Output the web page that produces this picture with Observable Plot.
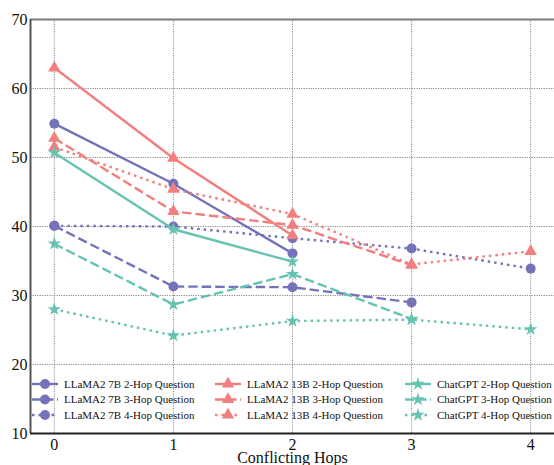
<!DOCTYPE html>
<html>
<head>
<meta charset="utf-8">
<script src="https://cdn.jsdelivr.net/npm/d3@7"></script>
<script src="https://cdn.jsdelivr.net/npm/@observablehq/plot@0.6"></script>
<style>
  html, body { margin: 0; padding: 0; background: white; }
  #wrap { position: relative; width: 554px; height: 465px; overflow: hidden; }
  #legend { position: absolute; left: 0; top: 0; }
</style>
</head>
<body>
<div id="wrap"></div>
<script>
// ---- data ----
const hops = [0, 1, 2, 3, 4];
const yTicks = [10, 20, 30, 40, 50, 60, 70];
const xLabel = "Conflicting Hops";

const llama7b2 = [54.9, 46.2, 36.1];
const llama7b3 = [40.1, 31.3, 31.2, 29.0];
const llama7b4 = [40.1, 40.0, 38.3, 36.8, 33.9];
const llama13b2 = [63.0, 49.9, 38.7];
const llama13b3 = [52.8, 42.2, 40.2, 34.4];
const llama13b4 = [51.5, 45.4, 41.8, 34.5, 36.4];
const gpt2 = [50.7, 39.6, 34.9];
const gpt3 = [37.5, 28.7, 33.1, 26.6];
const gpt4 = [28.0, 24.2, 26.3, 26.5, 25.1];

const seriesNames = [
  "LLaMA2 7B 2-Hop Question", "LLaMA2 7B 3-Hop Question", "LLaMA2 7B 4-Hop Question",
  "LLaMA2 13B 2-Hop Question", "LLaMA2 13B 3-Hop Question", "LLaMA2 13B 4-Hop Question",
  "ChatGPT 2-Hop Question", "ChatGPT 3-Hop Question", "ChatGPT 4-Hop Question"
];
const seriesValues = [llama7b2, llama7b3, llama7b4, llama13b2, llama13b3, llama13b4, gpt2, gpt3, gpt4];

// ---- styles ----
const PURPLE = "#7473B9", RED = "#F27E7E", TEAL = "#67C3B1";
const colorOf = [PURPLE, PURPLE, PURPLE, RED, RED, RED, TEAL, TEAL, TEAL];
const symbolOf = ["circle","circle","circle","triangle","triangle","triangle","star","star","star"];
const kindOf = ["solid","dashed","dotted","solid","dashed","dotted","solid","dashed","dotted"];
const dashFor = {solid: null, dashed: "9.5,4", dotted: "2.5,4"};
const rOf = {circle: 5, triangle: 4.6, star: 4.2};
const LW = 2.4;

const rows = [];
seriesValues.forEach((vals, i) => vals.forEach((v, j) => rows.push({series: i, hop: hops[j], value: v})));

const marks = [
  Plot.gridX({ticks: hops, stroke: "#8a8a8a", strokeOpacity: 1, strokeWidth: 1, strokeDasharray: "1.2,1.2"}),
  Plot.gridY({ticks: yTicks, stroke: "#8a8a8a", strokeOpacity: 1, strokeWidth: 1, strokeDasharray: "1.2,1.2"})
];
seriesValues.forEach((vals, i) => {
  const d = rows.filter(r => r.series === i);
  const dash = dashFor[kindOf[i]];
  marks.push(Plot.line(d, {x: "hop", y: "value", stroke: colorOf[i], strokeWidth: LW,
    strokeDasharray: dash || undefined, strokeLinecap: "butt"}));
  marks.push(Plot.dot(d, {x: "hop", y: "value", fill: colorOf[i], stroke: "none",
    symbol: symbolOf[i], r: rOf[symbolOf[i]]}));
});
marks.push(
  Plot.axisY({ticks: yTicks, tickSize: 0, tickPadding: 3, fontSize: 16, label: null}),
  Plot.axisX({ticks: hops, tickFormat: d3.format("d"), tickSize: 0, tickPadding: 5, fontSize: 16, label: null}),
  Plot.ruleY([70], {stroke: "#7a7a7a", strokeWidth: 2}),
  Plot.ruleX([-0.2], {stroke: "#555", strokeWidth: 2}),
  Plot.ruleY([10], {stroke: "#222", strokeWidth: 2}),
  Plot.text([xLabel], {frameAnchor: "bottom", lineAnchor: "bottom", dy: 29, fontSize: 16, fill: "#111"})
);

const chart = Plot.plot({
  width: 554, height: 465,
  marginLeft: 30, marginRight: 0, marginTop: 19, marginBottom: 32,
  x: {domain: [-0.2, 4.2]},
  y: {domain: [10, 70]},
  style: {fontFamily: "'Liberation Serif', 'DejaVu Serif', serif", background: "white", color: "#111", overflow: "visible"},
  marks
});
document.getElementById("wrap").appendChild(chart);

// ---- legend (3 columns x 3 rows) ----
const colX = [32, 215, 405];
const textDX = 32;
const rowY = [384, 399.5, 415];
const handleLen = 26;
const svg = d3.select("#wrap").append("svg").attr("id", "legend")
  .attr("width", 554).attr("height", 465);
seriesNames.forEach((name, i) => {
  const col = Math.floor(i / 3), row = i % 3;
  const x0 = colX[col], y0 = rowY[row];
  const g = svg.append("g");
  const dash = {solid: null, dashed: "9,3.5", dotted: "2.5,4"}[kindOf[i]];
  g.append("line").attr("x1", x0).attr("x2", x0 + handleLen).attr("y1", y0).attr("y2", y0)
    .attr("stroke", colorOf[i]).attr("stroke-width", LW)
    .attr("stroke-dasharray", dash);
  const sym = {circle: d3.symbolCircle, triangle: d3.symbolTriangle, star: d3.symbolStar}[symbolOf[i]];
  const r = rOf[symbolOf[i]];
  g.append("path").attr("d", d3.symbol(sym, Math.PI * r * r)())
    .attr("transform", `translate(${x0 + handleLen / 2},${y0})`).attr("fill", colorOf[i]);
  g.append("text").attr("x", x0 + textDX).attr("y", y0).attr("dy", "0.35em")
    .attr("font-family", "'Liberation Serif', serif").attr("font-size", 11).attr("fill", "#111")
    .text(name);
});
</script>
</body>
</html>
